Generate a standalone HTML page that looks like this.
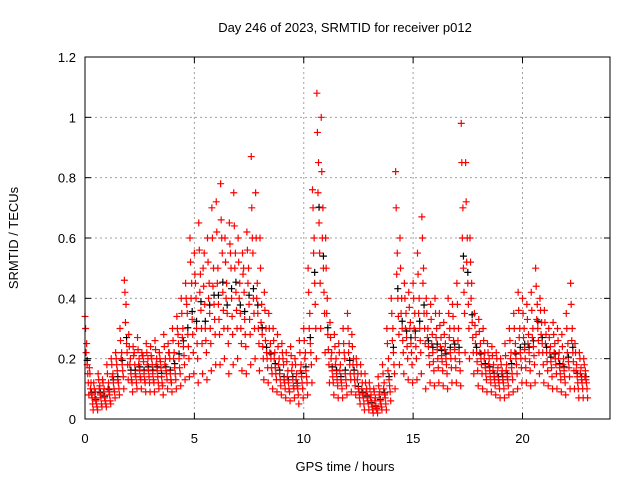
<!DOCTYPE html>
<html><head><meta charset="utf-8"><style>
body{margin:0;background:#fff}
svg{display:block;font-family:"Liberation Sans",sans-serif;font-size:13px}
</style></head><body>
<svg id="chart" width="640" height="480" viewBox="0 0 640 480">
<rect width="640" height="480" fill="#fff"/>
<text x="345" y="32" text-anchor="middle">Day 246 of 2023, SRMTID for receiver p012</text>
<text transform="translate(18,238) rotate(-90)" text-anchor="middle">SRMTID / TECUs</text>
<text x="345" y="471" text-anchor="middle">GPS time / hours</text>
<g id="grid"></g><g id="ticks"></g><g id="marks"></g>
<rect x="85" y="57" width="525" height="362" fill="none" stroke="#000"/>
</svg>
<script>
const xTicks=[0,5,10,15,20];
const yTicks=[0,0.2,0.4,0.6,0.8,1,1.2];
const yTickLabels=["0","0.2","0.4","0.6","0.8","1","1.2"];
const timeStep=0.2;
const sA=[.34,.17,.12,.15,.13,.18,.2,.22,.3,.46,.28,.24,.27,.22,.25,.24,.26,.22,.28,.25,.3,.34,.4,.45,.6,.55,.65,.5,.6,.7,.72,.78,.6,.65,.75,.6,.55,.62,.87,.75,.6,.42,.35,.3,.28,.25,.22,.24,.2,.26,.3,.5,.76,1.08,1.0,.6,.32,.28,.25,.3,.35,.28,.2,.18,.15,.12,.1,.14,.18,.3,.4,.82,.6,.45,.42,.45,.55,.67,.4,.38,.4,.35,.32,.4,.38,.45,.98,.85,.6,.35,.33,.3,.25,.24,.22,.2,.25,.3,.35,.42,.4,.38,.42,.5,.4,.36,.3,.32,.3,.28,.35,.45,.25,.22,.2];
const sB=[.25,.12,.09,.11,.1,.12,.15,.16,.22,.38,.2,.18,.2,.19,.2,.18,.2,.17,.2,.2,.22,.25,.3,.35,.45,.4,.48,.38,.45,.5,.5,.55,.45,.5,.55,.45,.42,.5,.55,.45,.38,.3,.25,.22,.2,.18,.16,.18,.15,.18,.22,.35,.6,.85,.7,.4,.22,.2,.18,.2,.25,.2,.15,.12,.1,.08,.07,.09,.12,.2,.3,.55,.4,.35,.32,.35,.4,.5,.3,.28,.3,.27,.25,.3,.3,.3,.7,.6,.45,.28,.25,.22,.2,.18,.17,.16,.18,.22,.25,.3,.3,.28,.3,.38,.32,.28,.24,.25,.22,.2,.25,.3,.18,.17,.16];
const sC=[.18,.08,.06,.08,.07,.09,.12,.13,.18,.25,.15,.15,.16,.15,.16,.15,.16,.14,.16,.15,.17,.2,.24,.28,.33,.3,.36,.3,.35,.38,.38,.42,.35,.4,.42,.35,.33,.38,.4,.35,.28,.22,.2,.17,.15,.13,.12,.13,.11,.14,.16,.25,.45,.65,.5,.28,.16,.15,.13,.15,.18,.15,.1,.08,.07,.05,.04,.06,.08,.13,.22,.4,.3,.27,.25,.27,.3,.35,.24,.22,.23,.21,.2,.22,.23,.22,.5,.45,.32,.22,.2,.17,.16,.14,.13,.13,.14,.17,.2,.22,.23,.22,.24,.3,.25,.22,.19,.2,.17,.16,.19,.22,.14,.13,.13];
const sD=[.12,.05,.04,.05,.05,.06,.09,.1,.14,.18,.12,.12,.13,.12,.12,.12,.12,.11,.13,.12,.13,.15,.18,.2,.22,.2,.25,.22,.25,.28,.28,.3,.25,.28,.3,.25,.24,.28,.3,.25,.2,.17,.15,.13,.11,.1,.09,.1,.08,.1,.12,.18,.3,.45,.35,.18,.12,.11,.1,.11,.13,.11,.07,.05,.05,.03,.03,.04,.05,.09,.15,.28,.22,.2,.18,.2,.22,.25,.18,.16,.17,.16,.15,.17,.17,.16,.35,.3,.22,.16,.15,.13,.12,.11,.1,.1,.11,.13,.15,.17,.17,.16,.18,.22,.18,.16,.14,.15,.13,.12,.14,.16,.1,.1,.1];
const sE=[.08,.03,.03,.04,.04,.05,.07,.08,.1,.13,.09,.1,.1,.09,.09,.09,.1,.08,.1,.09,.1,.11,.13,.14,.15,.12,.15,.13,.16,.18,.18,.2,.15,.18,.2,.16,.15,.18,.2,.16,.13,.12,.1,.09,.08,.07,.06,.07,.05,.07,.08,.12,.2,.3,.22,.12,.08,.07,.07,.08,.09,.08,.05,.03,.03,.02,.02,.03,.03,.06,.1,.18,.15,.13,.12,.13,.15,.1,.12,.11,.12,.11,.1,.12,.12,.11,.22,.2,.15,.11,.1,.09,.09,.08,.07,.07,.08,.09,.1,.12,.12,.11,.12,.15,.12,.11,.1,.1,.09,.08,.1,.1,.07,.07,.07];
const sF=[.3,.15,.1,.13,.12,.15,.18,.2,.26,.42,.24,.21,.23,.21,.22,.21,.23,.2,.24,.22,.26,.3,.35,.4,.52,.48,.56,.44,.52,.6,.62,.66,.52,.58,.64,.52,.48,.56,.7,.6,.5,.36,.3,.26,.24,.22,.19,.21,.18,.22,.26,.42,.7,.95,.82,.5,.27,.24,.22,.25,.3,.24,.18,.15,.12,.1,.09,.11,.15,.25,.35,.7,.5,.4,.37,.4,.48,.6,.35,.33,.35,.31,.28,.35,.34,.38,.85,.72,.52,.31,.29,.26,.22,.21,.2,.18,.21,.26,.3,.36,.35,.33,.36,.44,.36,.32,.27,.28,.26,.24,.3,.38,.22,.2,.18];
const sG=[.15,.07,.05,.07,.06,.08,.1,.12,.16,.22,.13,.14,.14,.13,.14,.13,.14,.12,.15,.13,.15,.17,.21,.24,.28,.25,.3,.26,.3,.33,.33,.36,.3,.34,.36,.3,.28,.33,.35,.3,.24,.2,.17,.15,.13,.12,.1,.11,.1,.12,.14,.22,.38,.55,.42,.23,.14,.13,.12,.13,.15,.13,.09,.07,.06,.04,.035,.05,.07,.11,.18,.34,.26,.24,.22,.24,.26,.3,.21,.19,.2,.19,.18,.2,.2,.19,.42,.38,.27,.19,.18,.15,.14,.13,.12,.12,.13,.15,.18,.2,.2,.19,.21,.26,.22,.19,.17,.18,.15,.14,.17,.19,.12,.12,.12];
const sH=[.22,.1,.07,.1,.09,.1,.14,.18,.2,.32,.18,.22,.18,.21,.18,.2,.18,.19,.18,.22,.2,.28,.27,.38,.4,.45,.42,.55,.4,.44,.45,.6,.4,.55,.5,.4,.5,.45,.6,.4,.32,.26,.22,.2,.18,.2,.14,.16,.13,.16,.2,.3,.55,.75,.6,.35,.2,.18,.16,.22,.22,.18,.13,.1,.09,.07,.06,.08,.1,.16,.26,.48,.35,.3,.3,.3,.35,.45,.27,.25,.27,.24,.23,.27,.26,.26,.6,.52,.4,.25,.22,.2,.18,.16,.15,.15,.16,.2,.22,.27,.27,.25,.27,.33,.28,.25,.22,.22,.2,.18,.22,.26,.16,.15,.14];
const redSeries=[sA,sF,sH,sB,sC,sG,sD,sE];
const blackSeries=[sC];

const X0=85,X1=610,Y0=419,Y1=57,XMAX=24,YMAX=1.2;
const xs=v=>X0+(X1-X0)*v/XMAX;
const ys=v=>Y0-(Y0-Y1)*v/YMAX;
const NS="http://www.w3.org/2000/svg";
function mk(tag,attrs,parent){const e=document.createElementNS(NS,tag);for(const k in attrs)e.setAttribute(k,attrs[k]);parent.appendChild(e);return e;}
const grid=document.getElementById('grid'),ticks=document.getElementById('ticks'),marks=document.getElementById('marks');
xTicks.forEach(t=>{const x=xs(t);
 if(t>0){const g=mk('line',{x1:x,x2:x,y1:Y0,y2:Y1,stroke:'#a0a0a0','stroke-dasharray':'2,3'},grid);
 
 }
 mk('line',{x1:x,x2:x,y1:Y0,y2:Y0-6,stroke:'#000'},ticks);
 mk('line',{x1:x,x2:x,y1:Y1,y2:Y1+6,stroke:'#000'},ticks);
 const l=mk('text',{x:x,y:443,'text-anchor':'middle'},ticks);l.textContent=String(t);
 
 
});
yTicks.forEach((t,i)=>{const y=ys(t);
 if(t>0&&t<YMAX){const g=mk('line',{x1:X0,x2:X1,y1:y,y2:y,stroke:'#a0a0a0','stroke-dasharray':'2,3'},grid);
 
 }
 mk('line',{x1:X0,x2:X0+6,y1:y,y2:y,stroke:'#000'},ticks);
 mk('line',{x1:X1,x2:X1-6,y1:y,y2:y,stroke:'#000'},ticks);
 const l=mk('text',{x:76,y:y+5,'text-anchor':'end'},ticks);l.textContent=yTickLabels[i];
 
 
});
function plus(t,v,color){const x=xs(t),y=ys(v);
 const p=mk('path',{d:`M${x-3.5},${y}h7M${x},${y-3.5}v7`,stroke:color,'stroke-width':1.2,fill:'none'},marks);
 
 
}
blackSeries.forEach((arr,k)=>arr.forEach((v,i)=>plus(i*timeStep+0.1,v*1.08,'#000')));
redSeries.forEach((arr,k)=>arr.forEach((v,i)=>plus(i*timeStep+k*0.025,v,'#ff0000')));
</script>
</body></html>
